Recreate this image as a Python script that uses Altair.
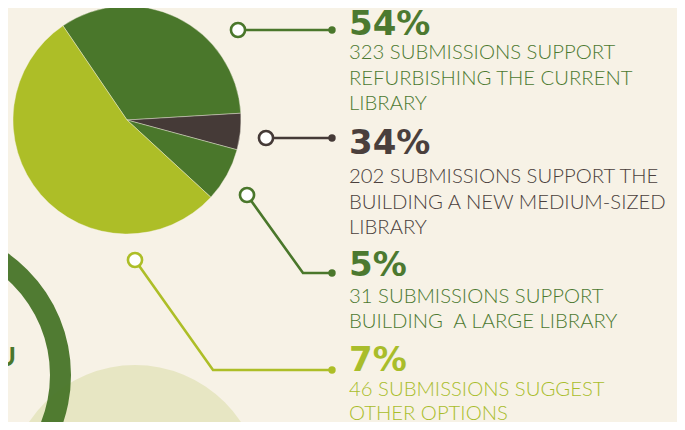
import math
import altair as alt
import pandas as pd

# ---------------- data ----------------
categories = ["Refurbish current library", "New medium-sized library",
              "New large library", "Other options"]
submissions = [323, 202, 31, 46]
pct_labels = ["54%", "34%", "5%", "7%"]
descriptions = [
    ["323 SUBMISSIONS SUPPORT", "REFURBISHING THE CURRENT", "LIBRARY"],
    ["202 SUBMISSIONS SUPPORT THE", "BUILDING A NEW MEDIUM-SIZED", "LIBRARY"],
    ["31 SUBMISSIONS SUPPORT", "BUILDING\u00a0 A LARGE LIBRARY"],
    ["46 SUBMISSIONS SUGGEST", "OTHER OPTIONS"],
]

# ---------------- styling / layout ----------------
DARK_GREEN = "#4a772b"
LIGHT_GREEN = "#adbe27"
BROWN = "#453a37"
BG = "#f7f2e6"
PALE = "#e7e6c3"
TEXT_COLORS = ["#4c7930", "#4a3f3c", "#4c7930", "#a9bd2b"]

# order of slices clockwise as drawn, with their fill
slice_order = [1, 2, 3, 0]              # index into categories
slice_fill = [DARK_GREEN, BROWN, DARK_GREEN, LIGHT_GREEN]
start = math.radians(325.8)

W, H = 669, 414
xs = alt.Scale(domain=[8, 8 + W], nice=False, zero=False)
ys = alt.Scale(domain=[8, 8 + H], nice=False, zero=False, reverse=True)

pie_df = pd.DataFrame({
    "category": [categories[i] for i in slice_order],
    "count": [submissions[i] for i in slice_order],
    "ord": list(range(4)),
    "fill": slice_fill,
    "cx": [127] * 4,
    "cy": [120] * 4,
})

pie = alt.Chart(pie_df).mark_arc(radius=114, stroke=BG, strokeWidth=0.4).encode(
    x=alt.X("cx:Q", scale=xs, axis=None),
    y=alt.Y("cy:Q", scale=ys, axis=None),
    theta=alt.Theta("count:Q", stack=True,
                    scale=alt.Scale(range=[start, start + 2 * math.pi])),
    order=alt.Order("ord:Q"),
    color=alt.Color("fill:N", scale=None),
)

# decorative shapes
pale_df = pd.DataFrame({"cx": [135], "cy": [492]})
pale = alt.Chart(pale_df).mark_arc(radius=127, theta=0, theta2=2 * math.pi,
                                   color=PALE).encode(
    x=alt.X("cx:Q", scale=xs, axis=None), y=alt.Y("cy:Q", scale=ys, axis=None))

ring_df = pd.DataFrame({"cx": [-78], "cy": [375]})
ring = alt.Chart(ring_df).mark_arc(radius=149, radius2=128, theta=0,
                                   theta2=2 * math.pi, color=DARK_GREEN,
                                   opacity=0.97).encode(
    x=alt.X("cx:Q", scale=xs, axis=None), y=alt.Y("cy:Q", scale=ys, axis=None))

u_df = pd.DataFrame({"x": [-4], "y": [366], "t": ["U"]})
u_text = alt.Chart(u_df).mark_text(align="left", baseline="alphabetic",
                                   font="Lato", fontSize=27, fontWeight=700,
                                   color=DARK_GREEN).encode(
    x=alt.X("x:Q", scale=xs, axis=None), y=alt.Y("y:Q", scale=ys, axis=None),
    text="t:N")

# connectors (layout)
conn_points = [
    [(238, 30), (332, 30)],
    [(266, 138), (332, 138)],
    [(247, 195), (303, 273), (332, 273)],
    [(135, 260), (213, 370), (332, 370)],
]
conn_colors = [DARK_GREEN, BROWN, DARK_GREEN, LIGHT_GREEN]
rows = []
for g, pts in enumerate(conn_points):
    for k, (px, py) in enumerate(pts):
        rows.append({"g": g, "k": k, "x": px, "y": py, "c": conn_colors[g]})
conn_df = pd.DataFrame(rows)

lines = alt.Chart(conn_df).mark_line(strokeWidth=2.6).encode(
    x=alt.X("x:Q", scale=xs, axis=None), y=alt.Y("y:Q", scale=ys, axis=None),
    detail="g:N", order="k:Q", color=alt.Color("c:N", scale=None))

start_df = conn_df[conn_df["k"] == 0]
end_df = conn_df.groupby("g").tail(1)

rings = alt.Chart(start_df).mark_point(shape="circle", filled=True, fill="white",
                                       size=200, strokeWidth=2.6, opacity=1).encode(
    x=alt.X("x:Q", scale=xs, axis=None), y=alt.Y("y:Q", scale=ys, axis=None),
    stroke=alt.Stroke("c:N", scale=None))

dots = alt.Chart(end_df).mark_point(shape="circle", filled=True, size=55,
                                    opacity=1).encode(
    x=alt.X("x:Q", scale=xs, axis=None), y=alt.Y("y:Q", scale=ys, axis=None),
    color=alt.Color("c:N", scale=None))

# text blocks (layout: baselines per block)
TX = 349
pct_y = [35, 154, 276, 371]
line_y = [[59, 85, 110], [183, 209, 234], [303, 328], [396, 420]]
pct_df = pd.DataFrame({"x": [TX] * 4, "y": pct_y, "t": pct_labels,
                       "c": TEXT_COLORS})
trows = []
for b, lines_ in enumerate(descriptions):
    for j, s in enumerate(lines_):
        trows.append({"x": TX, "y": line_y[b][j], "t": s,
                      "c": TEXT_COLORS[b]})
desc_df = pd.DataFrame(trows)

pct_text = alt.Chart(pct_df).mark_text(align="left", baseline="alphabetic",
                                       font="DejaVu Sans", fontSize=34,
                                       fontWeight="bold").encode(
    x=alt.X("x:Q", scale=xs, axis=None), y=alt.Y("y:Q", scale=ys, axis=None),
    text="t:N", color=alt.Color("c:N", scale=None))

desc_text = alt.Chart(desc_df).mark_text(align="left", baseline="alphabetic",
                                         font="Lato", fontSize=20.3,
                                         fontWeight=300).encode(
    x=alt.X("x:Q", scale=xs, axis=None), y=alt.Y("y:Q", scale=ys, axis=None),
    text="t:N", color=alt.Color("c:N", scale=None))

chart = alt.layer(pale, ring, u_text, pie, lines, rings, dots,
                  pct_text, desc_text).properties(
    width=W, height=H, padding=0, autosize=alt.AutoSizeParams(type="none"),
    background=BG,
).configure_view(stroke=None)

chart.save("out.html", embed_options={"renderer": "svg", "actions": False})
